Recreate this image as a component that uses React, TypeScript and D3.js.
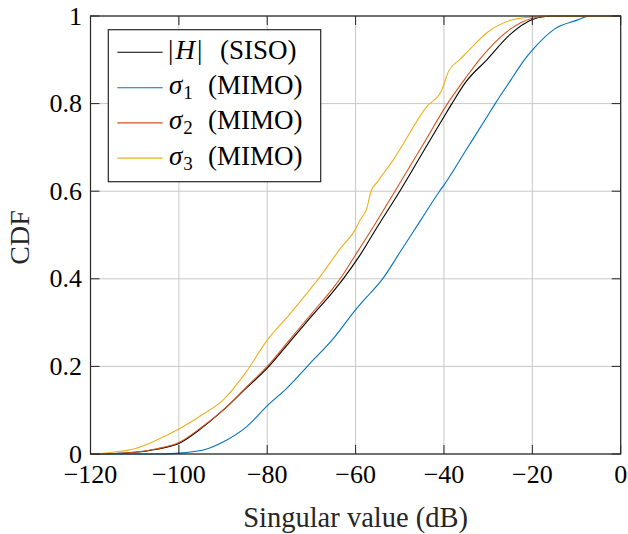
import React from "react";
import * as d3 from "d3";

// ---------- data ----------
const sisoX = [-120, -115, -110, -105, -100, -95, -90, -85, -80, -75, -70, -65, -62.8, -59, -55, -50, -45, -40, -38.2, -35, -30.3, -25, -20, -17, -15, 0];
const sisoY = [0, 0.001, 0.004, 0.011, 0.024, 0.058, 0.1, 0.148, 0.196, 0.255, 0.314, 0.372, 0.4, 0.454, 0.52, 0.6, 0.685, 0.77, 0.8, 0.85, 0.9, 0.958, 0.992, 0.999, 1, 1];

const s1X = [-120, -105, -100, -94.5, -89.9, -84.7, -79.8, -75.6, -70.3, -65, -59.7, -56.7, -54.1, -50, -45, -41, -40, -35, -30, -28.4, -25, -21.8, -20, -15, -10, -7, 0];
const s1Y = [0, 0, 0.002, 0.009, 0.028, 0.062, 0.112, 0.15, 0.207, 0.264, 0.333, 0.367, 0.397, 0.46, 0.538, 0.6, 0.614, 0.694, 0.774, 0.8, 0.852, 0.9, 0.922, 0.97, 0.99, 1, 1];

const s2X = [-120, -115, -110, -105, -100, -95, -90, -85, -80, -75, -70, -65, -63.5, -60, -55, -51.1, -45, -39.2, -35, -32, -25, -20, -16, 0];
const s2Y = [0, 0.001, 0.004, 0.012, 0.026, 0.06, 0.1, 0.15, 0.2, 0.26, 0.32, 0.38, 0.4, 0.455, 0.535, 0.6, 0.702, 0.8, 0.86, 0.9, 0.97, 0.995, 1, 1];

const s3X = [-120, -115, -110, -105, -100, -95, -90, -85, -80, -75, -70, -68.4, -63.7, -60, -59, -57.5, -56.5, -55, -51.5, -43.9, -40.5, -39, -36.5, -35, -30, -25, -20, -18, 0];
const s3Y = [0, 0.004, 0.012, 0.032, 0.057, 0.088, 0.123, 0.184, 0.26, 0.318, 0.38, 0.4, 0.466, 0.514, 0.534, 0.56, 0.6, 0.622, 0.671, 0.793, 0.831, 0.873, 0.9, 0.915, 0.964, 0.99, 0.998, 1, 1];

const xTicks = [-120, -100, -80, -60, -40, -20, 0];
const yTicks = [0, 0.2, 0.4, 0.6, 0.8, 1];
const xTickLabels = ["\u2212120", "\u2212100", "\u221280", "\u221260", "\u221240", "\u221220", "0"];
const yTickLabels = ["0", "0.2", "0.4", "0.6", "0.8", "1"];

const seriesNames = ["H", "1", "2", "3"];
const colors = ["#000000", "#0072BD", "#D95319", "#EDB120"];

// ---------- layout ----------
const W = 628, H = 534;
const left = 90.5, right = 620.7, top = 16, bottom = 454;
const FONT = "Liberation Serif, DejaVu Serif, serif";

export default function App() {
  const x = d3.scaleLinear().domain([-120, 0]).range([left, right]);
  const y = d3.scaleLinear().domain([0, 1]).range([bottom, top]);
  const line = d3.line<[number, number]>().x(d => x(d[0])).y(d => y(d[1])).curve(d3.curveMonotoneX);
  const series = [
    d3.zip(sisoX, sisoY) as [number, number][],
    d3.zip(s1X, s1Y) as [number, number][],
    d3.zip(s2X, s2Y) as [number, number][],
    d3.zip(s3X, s3Y) as [number, number][],
  ];
  const tickLen = 9;
  const axisColor = "#262626";

  const legX = 108.3, legY = 29.7, legW = 212.4, legH = 152;
  const rowY = [52.3, 87.7, 122.9, 158.1];

  return (
    <svg width={W} height={H} style={{ position: "absolute", left: 0, top: 0 }} fontFamily={FONT}>
      <rect x={0} y={0} width={W} height={H} fill="#fff" />
      {xTicks.map(t => (
        <line key={"gx" + t} x1={x(t)} x2={x(t)} y1={top} y2={bottom} stroke="#c8c8c8" strokeWidth={1} />
      ))}
      {yTicks.map(t => (
        <line key={"gy" + t} x1={left} x2={right} y1={y(t)} y2={y(t)} stroke="#c8c8c8" strokeWidth={1} />
      ))}
      {series.map((s, i) => (
        <path key={i} d={line(s) || ""} fill="none" stroke={colors[i]} strokeWidth={1.1} strokeLinejoin="round" />
      ))}
      {xTicks.map(t => (
        <g key={"tx" + t}>
          <line x1={x(t)} x2={x(t)} y1={bottom} y2={bottom - tickLen} stroke={axisColor} strokeWidth={1} />
          <line x1={x(t)} x2={x(t)} y1={top} y2={top + tickLen} stroke={axisColor} strokeWidth={1} />
        </g>
      ))}
      {yTicks.map(t => (
        <g key={"ty" + t}>
          <line x1={left} x2={left + tickLen} y1={y(t)} y2={y(t)} stroke={axisColor} strokeWidth={1} />
          <line x1={right} x2={right - tickLen} y1={y(t)} y2={y(t)} stroke={axisColor} strokeWidth={1} />
        </g>
      ))}
      <rect x={left} y={top} width={right - left} height={bottom - top} fill="none" stroke={axisColor} strokeWidth={1.2} />
      {xTicks.map((t, i) => (
        <text key={"lx" + t} x={x(t)} y={483} textAnchor="middle" fontSize={26} fill="#000">{xTickLabels[i]}</text>
      ))}
      {yTicks.map((t, i) => (
        <text key={"ly" + t} x={82} y={y(t) + 8.5} textAnchor="end" fontSize={26} fill="#000">{yTickLabels[i]}</text>
      ))}
      <text x={(left + right) / 2} y={527} textAnchor="middle" fontSize={28.5} fill="#262626">Singular value (dB)</text>
      <text transform={`translate(29,237.5) rotate(-90)`} textAnchor="middle" fontSize={28} fill="#262626">CDF</text>
      <rect x={legX} y={legY} width={legW} height={legH} fill="#fff" stroke={axisColor} strokeWidth={1.2} />
      {seriesNames.map((n, i) => (
        <g key={"lg" + n}>
          <line x1={117.3} x2={162.7} y1={rowY[i]} y2={rowY[i]} stroke={colors[i]} strokeWidth={1.1} />
          {i === 0 ? (
            <text y={rowY[i] + 6.5} fontSize={27} fill="#000">
              <tspan x={168}>|</tspan>
              <tspan fontStyle="italic" dx={2}>H</tspan>
              <tspan dx={2}>|</tspan>
              <tspan x={220}>(SISO)</tspan>
            </text>
          ) : (
            <text y={rowY[i] + 6.5} fontSize={27} fill="#000">
              <tspan x={169} fontStyle="italic">σ</tspan>
              <tspan fontSize={19} dy={5} dx={1}>{n}</tspan>
              <tspan x={208} dy={-5}>(MIMO)</tspan>
            </text>
          )}
        </g>
      ))}
    </svg>
  );
}
